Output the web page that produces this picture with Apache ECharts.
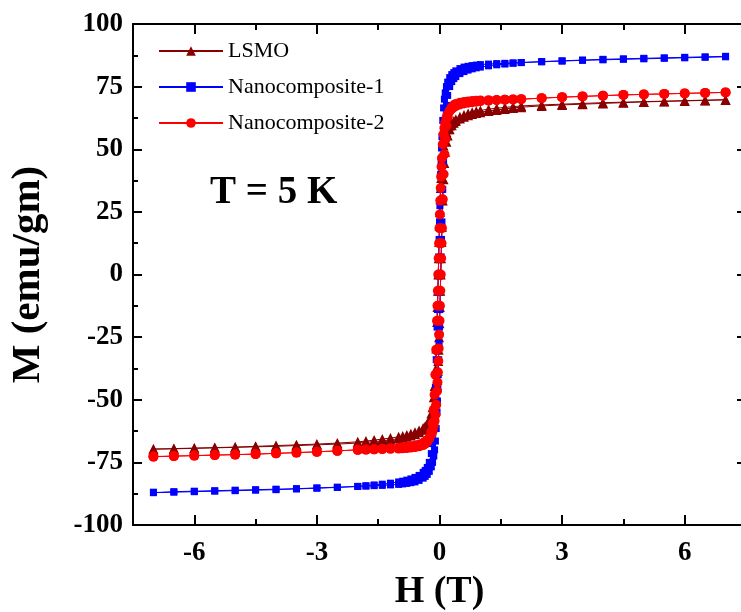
<!DOCTYPE html>
<html>
<head>
<meta charset="utf-8">
<script src="https://cdn.jsdelivr.net/npm/echarts@6/dist/echarts.min.js"></script>
<style>
html,body{margin:0;padding:0;background:#fff;}
#main{width:741px;height:612px;}
</style>
</head>
<body>
<div id="main"></div>
<script>
// Field values (T): descending branch (+7 -> -7) and ascending branch (-7 -> +7)
var H_DOWN = [7, 6.5, 6, 5.5, 5, 4.5, 4, 3.5, 3, 2.5, 2, 1.8, 1.6, 1.4, 1.2, 1, 0.9, 0.8, 0.7, 0.6, 0.5, 0.4, 0.35, 0.3, 0.25, 0.2, 0.17, 0.14, 0.12, 0.1, 0.08, 0.06, 0.05, 0.04, 0.03, 0.02, 0.01, 0, -0.01, -0.02, -0.03, -0.04, -0.05, -0.06, -0.08, -0.1, -0.12, -0.14, -0.17, -0.2, -0.25, -0.3, -0.35, -0.4, -0.5, -0.6, -0.7, -0.8, -0.9, -1, -1.2, -1.4, -1.6, -1.8, -2, -2.5, -3, -3.5, -4, -4.5, -5, -5.5, -6, -6.5, -7];
var H_UP = [-7, -6.5, -6, -5.5, -5, -4.5, -4, -3.5, -3, -2.5, -2, -1.8, -1.6, -1.4, -1.2, -1, -0.9, -0.8, -0.7, -0.6, -0.5, -0.4, -0.35, -0.3, -0.25, -0.2, -0.17, -0.14, -0.12, -0.1, -0.08, -0.06, -0.05, -0.04, -0.03, -0.02, -0.01, 0, 0.01, 0.02, 0.03, 0.04, 0.05, 0.06, 0.08, 0.1, 0.12, 0.14, 0.17, 0.2, 0.25, 0.3, 0.35, 0.4, 0.5, 0.6, 0.7, 0.8, 0.9, 1, 1.2, 1.4, 1.6, 1.8, 2, 2.5, 3, 3.5, 4, 4.5, 5, 5.5, 6, 6.5, 7];

// Magnetization (emu/gm)
var LSMO_DOWN = [69.8, 69.6, 69.4, 69.2, 69.0, 68.8, 68.6, 68.3, 68.0, 67.7, 67.3, 67.0, 66.7, 66.4, 66.0, 65.5, 65.2, 64.8, 64.3, 63.7, 63.0, 62.0, 61.3, 60.5, 59.5, 58.0, 56.8, 55, 53.5, 51.5, 48.5, 44.5, 42, 38.5, 34.5, 30, 25, 19.5, 13, 6.5, 0, -6.5, -13, -19, -29.5, -38, -44.5, -49, -53, -55.5, -58, -59.6, -60.6, -61.3, -62.3, -63.0, -63.6, -64.1, -64.5, -64.8, -65.3, -65.7, -66.1, -66.5, -66.8, -67.3, -67.7, -68.0, -68.3, -68.6, -68.9, -69.1, -69.3, -69.5, -69.7];
var LSMO_UP = [-69.8, -69.6, -69.4, -69.2, -69.0, -68.8, -68.6, -68.3, -68.0, -67.7, -67.3, -67.0, -66.7, -66.4, -66.0, -65.5, -65.2, -64.8, -64.3, -63.7, -63.0, -62.0, -61.3, -60.5, -59.5, -58.0, -56.8, -55, -53.5, -51.5, -48.5, -44.5, -42, -38.5, -34.5, -30, -25, -19.5, -13, -6.5, 0, 6.5, 13, 19, 29.5, 38, 44.5, 49, 53, 55.5, 58, 59.6, 60.6, 61.3, 62.3, 63.0, 63.6, 64.1, 64.5, 64.8, 65.3, 65.7, 66.1, 66.5, 66.8, 67.3, 67.7, 68.0, 68.3, 68.6, 68.9, 69.1, 69.3, 69.5, 69.7];

var NC1_DOWN = [86.9, 86.7, 86.5, 86.3, 86.1, 85.9, 85.7, 85.5, 85.2, 84.9, 84.6, 84.5, 84.3, 84.2, 84.0, 83.8, 83.6, 83.4, 83.1, 82.8, 82.2, 81.3, 80.6, 79.8, 78.6, 76.8, 75.0, 72.5, 70.0, 66.5, 61.5, 55, 50.5, 45.5, 40, 34, 27.5, 21, 14, 7, 0, -7, -14, -21, -34, -45, -54, -61, -67.5, -71.5, -75, -77, -78.2, -79, -80.2, -81, -81.6, -82.1, -82.5, -82.8, -83.3, -83.7, -84.0, -84.3, -84.6, -85.0, -85.3, -85.6, -85.9, -86.1, -86.3, -86.5, -86.7, -86.9, -87.1];
var NC1_UP = [-86.9, -86.7, -86.5, -86.3, -86.1, -85.9, -85.7, -85.5, -85.2, -84.9, -84.6, -84.5, -84.3, -84.2, -84.0, -83.8, -83.6, -83.4, -83.1, -82.8, -82.2, -81.3, -80.6, -79.8, -78.6, -76.8, -75.0, -72.5, -70.0, -66.5, -61.5, -55, -50.5, -45.5, -40, -34, -27.5, -21, -14, -7, 0, 7, 14, 21, 34, 45, 54, 61, 67.5, 71.5, 75, 77, 78.2, 79, 80.2, 81, 81.6, 82.1, 82.5, 82.8, 83.3, 83.7, 84.0, 84.3, 84.6, 85.0, 85.3, 85.6, 85.9, 86.1, 86.3, 86.5, 86.7, 86.9, 87.1];

var NC2_DOWN = [72.7, 72.5, 72.3, 72.1, 71.9, 71.7, 71.4, 71.1, 70.8, 70.4, 70.0, 69.9, 69.8, 69.6, 69.4, 69.2, 69.0, 68.8, 68.6, 68.3, 67.9, 67.3, 66.8, 66.2, 65.3, 63.8, 62.5, 60.5, 58.5, 56, 52, 46.5, 43, 39, 34.5, 29.5, 24, 18.5, 12.5, 6.5, 0, -6.5, -12.5, -18.5, -30, -40, -48, -54, -59.5, -62.8, -65.5, -66.8, -67.6, -68.1, -68.6, -68.9, -69.1, -69.3, -69.4, -69.5, -69.6, -69.7, -69.8, -69.9, -70.0, -70.4, -70.8, -71.1, -71.4, -71.7, -71.9, -72.1, -72.3, -72.5, -72.7];
var NC2_UP = [-72.7, -72.5, -72.3, -72.1, -71.9, -71.7, -71.4, -71.1, -70.8, -70.4, -70.0, -69.9, -69.8, -69.6, -69.4, -69.2, -69.0, -68.8, -68.6, -68.3, -67.9, -67.3, -66.8, -66.2, -65.3, -63.8, -62.5, -60.5, -58.5, -56, -52, -46.5, -43, -39, -34.5, -29.5, -24, -18.5, -12.5, -6.5, 0, 6.5, 12.5, 18.5, 30, 40, 48, 54, 59.5, 62.8, 65.5, 66.8, 67.6, 68.1, 68.6, 68.9, 69.1, 69.3, 69.4, 69.5, 69.6, 69.7, 69.8, 69.9, 70.0, 70.4, 70.8, 71.1, 71.4, 71.7, 71.9, 72.1, 72.3, 72.5, 72.7];

var SERIES_NAMES = ['LSMO', 'Nanocomposite-1', 'Nanocomposite-2'];
var X_LABEL_TICKS = [-6, -3, 0, 3, 6];
var ANNOTATION = 'T = 5 K';

function loop(hd, md, hu, mu) {
  var out = [];
  for (var i = 0; i < hd.length; i++) out.push([hd[i], md[i]]);
  for (var j = 0; j < hu.length; j++) out.push([hu[j], mu[j]]);
  return out;
}

var FONT = "'Liberation Serif', 'Times New Roman', serif";
var chart = echarts.init(document.getElementById('main'), null, {renderer: 'canvas'});

function axLine(show) {
  return {show: show, onZero: false, lineStyle: {color: '#000', width: 2}};
}
function xAxisBase(pos, showLine) {
  return {
    type: 'value', position: pos, min: -7.5, max: 7.5, interval: 1.5,
    axisLine: axLine(showLine),
    splitLine: {show: false}
  };
}

var xAxes = [];
var a0 = xAxisBase('bottom', true);
a0.axisTick = {show: true, inside: true, length: 6, lineStyle: {color: '#000', width: 2}};
a0.axisLabel = {show: true, customValues: X_LABEL_TICKS, margin: 15, color: '#000', fontFamily: FONT, fontWeight: 'bold', fontSize: 27};
a0.name = 'H (T)'; a0.nameLocation = 'middle'; a0.nameGap = 48;
a0.nameTextStyle = {color: '#000', fontFamily: FONT, fontWeight: 'bold', fontSize: 38};
xAxes.push(a0);
var a1 = xAxisBase('bottom', false);
a1.axisTick = {show: true, inside: true, length: 10, customValues: X_LABEL_TICKS, lineStyle: {color: '#000', width: 2}};
a1.axisLabel = {show: false};
xAxes.push(a1);
var a2 = xAxisBase('top', true);
a2.axisTick = {show: true, inside: true, length: 6, lineStyle: {color: '#000', width: 2}};
a2.axisLabel = {show: false};
xAxes.push(a2);
var a3 = xAxisBase('top', false);
a3.axisTick = {show: true, inside: true, length: 10, customValues: X_LABEL_TICKS, lineStyle: {color: '#000', width: 2}};
a3.axisLabel = {show: false};
xAxes.push(a3);

function yAxisBase(pos, labels) {
  var y = {
    type: 'value', position: pos, min: -100, max: 100, interval: 25,
    axisLine: axLine(true),
    axisTick: {show: true, inside: true, length: 9, lineStyle: {color: '#000', width: 2}},
    minorTick: {show: true, splitNumber: 2, length: 5, lineStyle: {color: '#000', width: 2}},
    splitLine: {show: false}, minorSplitLine: {show: false},
    axisLabel: labels ? {show: true, margin: 10, color: '#000', fontFamily: FONT, fontWeight: 'bold', fontSize: 27} : {show: false}
  };
  if (labels) {
    y.name = 'M (emu/gm)'; y.nameLocation = 'middle'; y.nameGap = 84; y.nameRotate = 90;
    y.nameTextStyle = {color: '#000', fontFamily: FONT, fontWeight: 'bold', fontSize: 41};
  }
  return y;
}

function mkSeries(name, data, color, symbol, size) {
  return {
    name: name, type: 'line', xAxisIndex: 0, yAxisIndex: 0, data: data,
    symbol: symbol, symbolSize: size, showSymbol: true,
    lineStyle: {color: color, width: 1},
    itemStyle: {color: color},
    animation: false
  };
}

chart.setOption({
  backgroundColor: '#fff',
  animation: false,
  grid: {left: 133, right: -5, top: 24, bottom: 87, containLabel: false, outerBoundsMode: 'none'},
  legend: {
    left: 153, top: 35, orient: 'vertical', itemWidth: 64, itemHeight: 12, itemGap: 14,
    textStyle: {color: '#000', fontFamily: FONT, fontSize: 22},
    data: SERIES_NAMES
  },
  graphic: [{
    type: 'text', left: 210, top: 173,
    style: {text: ANNOTATION, fill: '#000', font: 'bold 39px ' + FONT}
  }],
  xAxis: xAxes,
  yAxis: [yAxisBase('left', true), yAxisBase('right', false)],
  series: [
    mkSeries(SERIES_NAMES[0], loop(H_DOWN, LSMO_DOWN, H_UP, LSMO_UP), '#880000', 'triangle', 10),
    mkSeries(SERIES_NAMES[1], loop(H_DOWN, NC1_DOWN, H_UP, NC1_UP), '#0000ff', 'rect', 7),
    mkSeries(SERIES_NAMES[2], loop(H_DOWN, NC2_DOWN, H_UP, NC2_UP), '#ff0000', 'circle', 10)
  ]
});
</script>
</body>
</html>
